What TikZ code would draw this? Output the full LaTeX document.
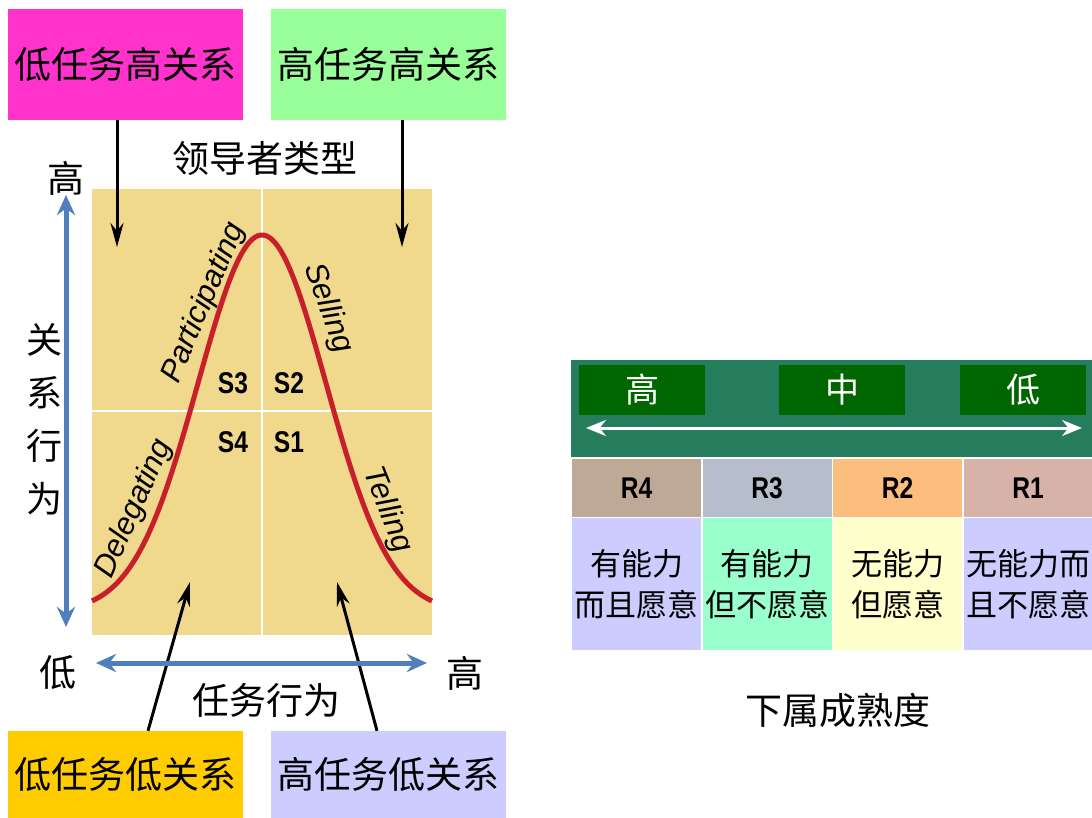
\documentclass[tikz,border=0pt]{standalone}
\usepackage{fontspec}
\setmainfont{Liberation Sans}
\newfontfamily\cjk{Noto Sans CJK SC}
\usetikzlibrary{arrows.meta}

\definecolor{magbox}{RGB}{255,51,204}
\definecolor{grnbox}{RGB}{153,255,153}
\definecolor{yelbox}{RGB}{255,204,0}
\definecolor{lavbox}{RGB}{204,204,255}
\definecolor{tanbg}{RGB}{240,216,140}
\definecolor{curvered}{RGB}{200,32,42}
\definecolor{axisblue}{RGB}{79,127,189}
\definecolor{bandgreen}{RGB}{37,125,93}
\definecolor{darkgreen}{RGB}{0,102,0}
\definecolor{rfour}{RGB}{190,168,150}
\definecolor{rthree}{RGB}{182,190,204}
\definecolor{rtwo}{RGB}{252,190,126}
\definecolor{rone}{RGB}{214,178,168}
\definecolor{mintbox}{RGB}{153,255,204}
\definecolor{creambox}{RGB}{255,255,204}

\tikzset{
  bigcjk/.style={font=\cjk\fontsize{37}{37}\selectfont},
  stylebox/.style={bigcjk, minimum width=235, minimum height=111, inner sep=0pt},
  pointer/.style={line width=3pt, -{Stealth[length=24pt,width=13pt]}},
  axisarrow/.style={axisblue, line width=5pt, {Stealth[length=20pt,width=18pt]}-{Stealth[length=20pt,width=18pt]}},
  curvelabel/.style={font=\itshape\fontsize{31}{31}\selectfont},
  slabel/.style={font=\bfseries\fontsize{30}{30}\selectfont, xscale=0.82},
  levelbox/.style={font=\cjk\fontsize{34}{34}\selectfont, text=white, fill=darkgreen, minimum width=126, minimum height=50, inner sep=0pt},
  rcell/.style={minimum width=129, minimum height=58, inner sep=0pt},
  rtext/.style={font=\bfseries\fontsize{30}{30}\selectfont, xscale=0.82},
  desccell/.style={font=\cjk\fontsize{31}{41}\selectfont, align=center, minimum width=129, minimum height=132, inner sep=0pt},
}

\begin{document}
\begin{tikzpicture}[x=1pt,y=1pt,yscale=-1]
\useasboundingbox (0,0) rectangle (1092,818);

%Shape: style boxes
\node[stylebox, fill=magbox] (lth) at (125.5,64.5) {低任务高关系};
\node[stylebox, fill=grnbox] (hth) at (388.5,64.5) {高任务高关系};
\node[stylebox, fill=yelbox, minimum height=87] (ltl) at (125.5,774.5) {低任务低关系};
\node[stylebox, fill=lavbox, minimum height=87] (htl) at (388.5,774.5) {高任务低关系};

%Shape: chart background
\fill[tanbg] (92,189) rectangle (432,635);
\draw[white, line width=2pt] (262,189) -- (262,635);
\draw[white, line width=2pt] (92,411) -- (432,411);

%Curve Lines: bell curve
\draw[curvered, line width=5pt] plot[domain=92:432, samples=120] (\x, {612-377*exp(-(((\x-262)/64)^2)/2)});

% Text Node: curve labels
\node[curvelabel, rotate=66] (dlg) at (134,509) {Delegating};
\node[curvelabel, rotate=67] (prt) at (204,303) {Participating};
\node[curvelabel, rotate=-70] (sll) at (328,308) {Selling};
\node[curvelabel, rotate=-68] (tll) at (387,510) {Telling};

% Text Node: quadrants
\node[slabel] (sthree) at (233,383) {S3};
\node[slabel] (stwo) at (289,383) {S2};
\node[slabel] (sfour) at (233,442) {S4};
\node[slabel] (sone) at (289,442) {S1};

%Straight Lines: pointers
\coordinate (lthend) at (117,247);
\coordinate (hthend) at (402,247);
\coordinate (ltlend) at (190,582);
\coordinate (htlend) at (337,582);
\draw[pointer] (lth.south -| lthend) -- (lthend);
\draw[pointer] (hth.south -| hthend) -- (hthend);
\draw[pointer] ([xshift=22.5]ltl.north) -- (ltlend);
\draw[pointer] ([xshift=-11.5]htl.north) -- (htlend);

% Text Node: axes
\node[bigcjk] (title) at (265,158) {领导者类型};
\node[bigcjk] (yhigh) at (66,178) {高};
\node[bigcjk, align=center, font=\cjk\fontsize{36}{53}\selectfont] (ylabel) at (44,419) {关\\系\\行\\为};
\node[bigcjk] (xlow) at (58,673) {低};
\node[bigcjk] (xhigh) at (465,673) {高};
\node[bigcjk] (xlabel) at (266,700) {任务行为};
\coordinate (ytop) at (66,195);
\coordinate (ybot) at (66,627);
\coordinate (xleft) at (96,663);
\coordinate (xright) at (427,663);
\draw[axisarrow] (ybot) -- (ytop);
\draw[axisarrow] (xleft) -- (xright);

%Shape: maturity band
\fill[bandgreen] (571,360) rectangle (1092,457);
\node[levelbox] (mhigh) at (642,390) {高};
\node[levelbox] (mmid) at (842,390) {中};
\node[levelbox] (mlow) at (1023,390) {低};
\coordinate (bandleft) at (586,428);
\coordinate (bandright) at (1082,428);
\draw[white, line width=3pt, {Stealth[length=20pt,width=16pt]}-{Stealth[length=20pt,width=16pt]}] (bandleft) -- (bandright);

%Shape: readiness cells
\node[rcell, fill=rfour] (rfourc) at (636.5,488) {};
\node[rcell, fill=rthree] (rthreec) at (767,488) {};
\node[rcell, fill=rtwo] (rtwoc) at (897.5,488) {};
\node[rcell, fill=rone] (ronec) at (1028,488) {};
\node[rtext] at (rfourc) {R4};
\node[rtext] at (rthreec) {R3};
\node[rtext] at (rtwoc) {R2};
\node[rtext] at (ronec) {R1};
\node[desccell, fill=lavbox] (dfour) at (636.5,584) {有能力\\而且愿意};
\node[desccell, fill=mintbox] (dthree) at (767,584) {有能力\\但不愿意};
\node[desccell, fill=creambox] (dtwo) at (897.5,584) {无能力\\但愿意};
\node[desccell, fill=lavbox] (done) at (1028,584) {无能力而\\且不愿意};

% Text Node
\node[bigcjk] (maturity) at (838,710) {下属成熟度};

\end{tikzpicture}
\end{document}
